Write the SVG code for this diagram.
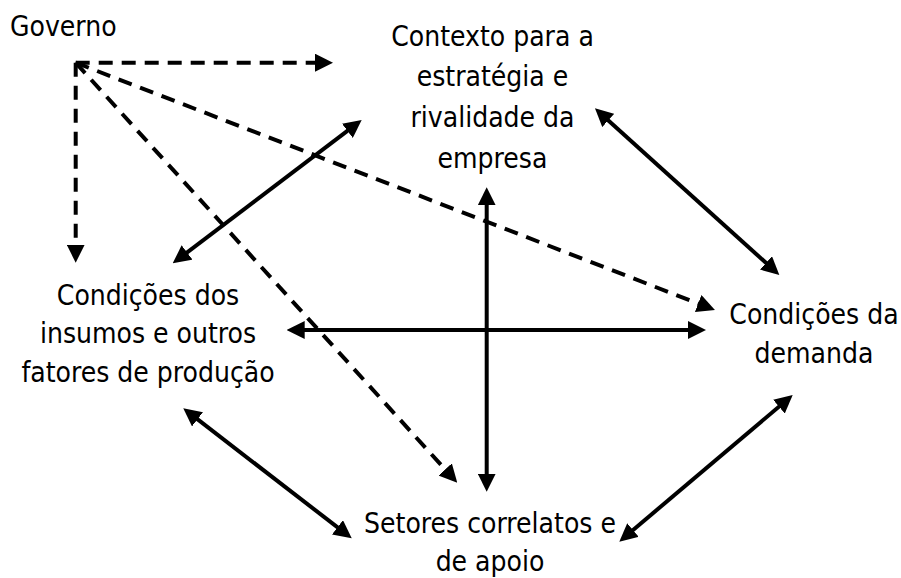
<svg xmlns="http://www.w3.org/2000/svg" width="901" height="578" viewBox="0 0 901 578">
<style>
  text { font-family: "DejaVu Sans Condensed", "DejaVu Sans", "Liberation Sans", sans-serif; font-stretch: condensed; font-size: 28px; fill: #000; }
  .c { text-anchor: middle; }
  .solid { stroke: #000; stroke-width: 4; fill: none; marker-start: url(#ah); marker-end: url(#ah); }
  .dash { stroke: #000; stroke-width: 4; fill: none; stroke-dasharray: 14 9; marker-end: url(#ah); }
</style>
<defs>
  <marker id="ah" viewBox="0 0 18 18" refX="10" refY="9" markerWidth="18" markerHeight="18" markerUnits="userSpaceOnUse" orient="auto-start-reverse">
    <path d="M0,0 L18,9 L0,18 z" fill="#000"/>
  </marker>
</defs>
<rect width="901" height="578" fill="#fff"/>
<g id="connectors">
  <line class="dash" x1="75.7" y1="62.7" x2="325" y2="62.7"/>
  <line class="dash" x1="75.7" y1="62.7" x2="75.7" y2="254.7"/>
  <line class="dash" x1="75.7" y1="62.7" x2="707.5" y2="307.1"/>
  <line class="dash" x1="75.7" y1="62.7" x2="451.9" y2="476.8"/>
  <line class="solid" x1="179.1" y1="258.5" x2="355.3" y2="124.8"/>
  <line class="solid" x1="600.9" y1="113.7" x2="773.4" y2="269.6"/>
  <line class="solid" x1="486.7" y1="195.3" x2="486.7" y2="483.7"/>
  <line class="solid" x1="294.7" y1="330" x2="698" y2="330"/>
  <line class="solid" x1="189.6" y1="413.2" x2="345.4" y2="533.4"/>
  <line class="solid" x1="625.4" y1="536.5" x2="786.6" y2="400.2"/>
</g>
<g id="governo">
  <text x="10" y="36">Governo</text>
</g>
<g id="contexto">
  <text class="c" x="492.5" y="45.7">Contexto para a</text>
  <text class="c" x="492.5" y="86.4">estratégia e</text>
  <text class="c" x="492.5" y="127">rivalidade da</text>
  <text class="c" x="492.5" y="167.8">empresa</text>
</g>
<g id="insumos">
  <text class="c" x="148" y="305">Condições dos</text>
  <text class="c" x="148" y="343.3">insumos e outros</text>
  <text class="c" x="148" y="381.7">fatores de produção</text>
</g>
<g id="demanda">
  <text class="c" x="814" y="324.3">Condições da</text>
  <text class="c" x="814" y="363.3">demanda</text>
</g>
<g id="setores">
  <text class="c" x="490" y="533">Setores correlatos e</text>
  <text class="c" x="490" y="571">de apoio</text>
</g>
</svg>
